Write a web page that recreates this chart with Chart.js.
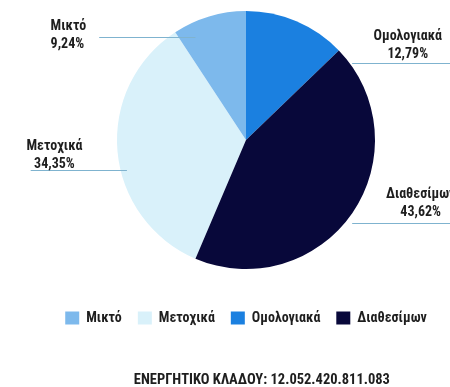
<!DOCTYPE html>
<html>
<head>
<meta charset="utf-8">
<script src="https://cdn.jsdelivr.net/npm/chart.js@4/dist/chart.umd.min.js"></script>
<style>
  html, body { margin: 0; padding: 0; background: #ffffff; }
  #wrap { width: 450px; height: 387px; position: relative; }
</style>
</head>
<body>
<div id="wrap"><canvas id="fundChart"></canvas></div>
<script>
// Asset mix of the sector (percent of total assets), in drawing order
// clockwise round the pie.
const categories = ['Μετοχικά', 'Μικτό', 'Ομολογιακά', 'Διαθεσίμων'];
const shares = [34.35, 9.24, 12.79, 43.62];
// Order of the entries in the key under the pie
const legendOrder = ['Μικτό', 'Μετοχικά', 'Ομολογιακά', 'Διαθεσίμων'];
const caption = 'ΕΝΕΡΓΗΤΙΚΟ ΚΛΑΔΟΥ: 12.052.420.811.083';

const sliceColors = ['#d9f1fa', '#7db9ec', '#1b80e0', '#08083a'];
const textColor = '#1e1e1e';
const leaderColor = '#7fb3cf';
const FONT = '"Roboto Condensed", "DejaVu Sans Condensed", sans-serif';

// Callout placement, in units of the pie radius measured from its centre.
// ty = baseline of the name; line runs horizontally at lineY from x1 to x2.
const calloutLayout = [
  { align: 'center', tx: -1.485, ty:  0.075, lineY:  0.231, x1: -1.669, x2: -0.923 },
  { align: 'left',   tx: -1.515, ty: -0.854, lineY: -0.800, x1: -1.138, x2: -0.392 },
  { align: 'center', tx:  1.254, ty: -0.777, lineY: -0.600, x1:  0.823, x2:  1.600 },
  { align: 'center', tx:  1.354, ty:  0.452, lineY:  0.646, x1:  0.823, x2:  1.600 }
];

const fmtPct = v => v.toFixed(2).replace('.', ',') + '%';

const calloutPlugin = {
  id: 'callouts',
  afterDatasetsDraw(chart) {
    const { ctx } = chart;
    const meta = chart.getDatasetMeta(0);
    ctx.save();
    meta.data.forEach((arc, i) => {
      const L = calloutLayout[i];
      const cx = arc.x, cy = arc.y, r = arc.outerRadius;
      // leader line
      ctx.strokeStyle = leaderColor;
      ctx.lineWidth = 1;
      ctx.beginPath();
      const ly = Math.round(cy + L.lineY * r) + 0.5;
      ctx.moveTo(cx + L.x1 * r, ly);
      ctx.lineTo(cx + L.x2 * r, ly);
      ctx.stroke();
      // name and share
      ctx.fillStyle = textColor;
      ctx.font = 'bold 14px ' + FONT;
      ctx.textAlign = L.align;
      ctx.textBaseline = 'alphabetic';
      const tx = cx + L.tx * r;
      const ty = cy + L.ty * r;
      ctx.fillText(categories[i], tx, ty);
      ctx.fillText(fmtPct(shares[i]), tx, ty + 18);
    });
    ctx.restore();
  }
};

const captionPlugin = {
  id: 'caption',
  afterDraw(chart) {
    const { ctx, width, height } = chart;
    ctx.save();
    ctx.fillStyle = textColor;
    ctx.font = 'bold 14.5px ' + FONT;
    ctx.textAlign = 'center';
    ctx.textBaseline = 'alphabetic';
    ctx.fillText(caption, width * 0.582, height - 3);
    ctx.restore();
  }
};

new Chart(document.getElementById('fundChart'), {
  type: 'pie',
  data: {
    labels: categories,
    datasets: [{
      data: shares,
      backgroundColor: sliceColors,
      borderWidth: 0
    }]
  },
  options: {
    responsive: true,
    maintainAspectRatio: false,
    animation: false,
    rotation: -(shares[0] + shares[1]) * 3.6,
    layout: { padding: { top: 11, left: 42, right: 0, bottom: 52 } },
    plugins: {
      tooltip: { enabled: false },
      legend: {
        position: 'bottom',
        title: { display: true, text: '', font: { size: 10, lineHeight: 1 }, padding: { top: 16, bottom: 0 } },
        labels: {
          boxWidth: 14,
          boxHeight: 13,
          padding: 16,
          color: textColor,
          font: { family: FONT, size: 14, weight: 'bold' },
          sort: (a, b) => legendOrder.indexOf(a.text) - legendOrder.indexOf(b.text)
        }
      }
    }
  },
  plugins: [calloutPlugin, captionPlugin]
});
</script>
</body>
</html>
